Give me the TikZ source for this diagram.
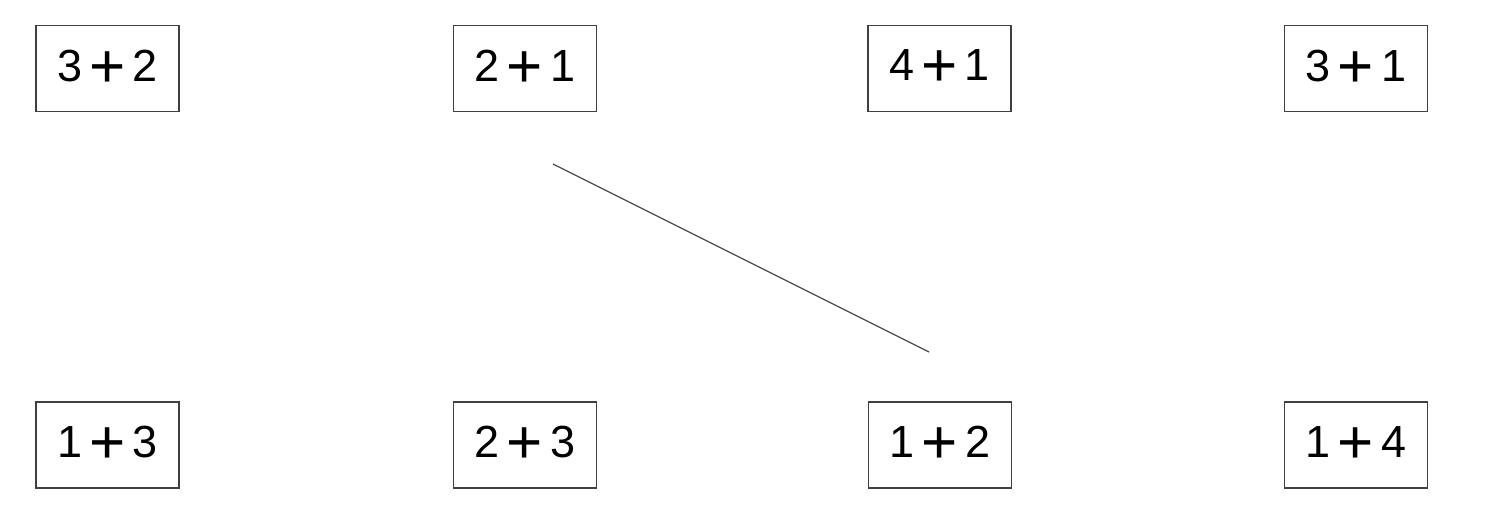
\documentclass[tikz,border=0pt]{standalone}
\usepackage{fontspec}
\setmainfont{Liberation Sans}
\newcommand{\pl}{\hspace{7pt}\raisebox{-6pt}{\fontsize{62}{62}\selectfont +}\hspace{7pt}}
\begin{document}
\begin{tikzpicture}[x=1pt,y=-1pt,
  card/.style={draw=black!75, line width=1.2pt, minimum width=143pt, minimum height=86pt, inner sep=0pt,
    font=\fontsize{45}{50}\selectfont},
  link/.style={draw=black!70, line width=1.3pt}]
\useasboundingbox (0,0) rectangle (1489,506);
\node[card] (t1) at (107.5,68.5) {3\pl 2};
\node[card] (t2) at (525,68.5) {2\pl 1};
\node[card] (t3) at (939.5,68.5) {4\pl 1};
\node[card] (t4) at (1356,68.5) {3\pl 1};
\node[card] (b1) at (107.5,445) {1\pl 3};
\node[card] (b2) at (525,445) {2\pl 3};
\node[card] (b3) at (940,445) {1\pl 2};
\node[card] (b4) at (1356,445) {1\pl 4};
\coordinate (s) at (553,164);
\coordinate (e) at (929,352);
\draw[link] (s) -- (e);
\end{tikzpicture}
\end{document}
